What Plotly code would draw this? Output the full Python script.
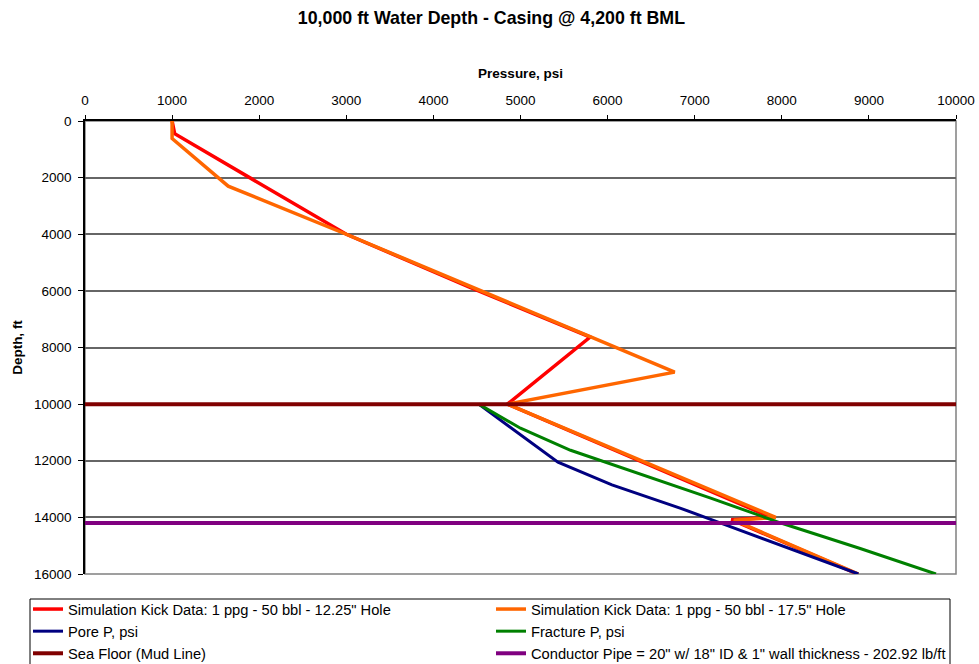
import plotly.graph_objects as go

# Pressure (psi) vs depth (ft) profiles
kick_1225_p = [1000, 1030, 3000, 4400, 5800, 4850, 7880, 7420, 8870]
kick_1225_d = [0, 450, 4000, 5850, 7630, 10000, 14000, 14080, 16000]

kick_175_p = [1000, 1000, 1644, 3000, 6770, 4850, 7930, 7450, 8880]
kick_175_d = [0, 620, 2300, 4000, 8870, 10000, 14000, 14100, 16000]

pore_p = [4520, 5430, 6050, 6840, 7300, 8100, 8880]
pore_d = [10000, 12050, 12850, 13680, 14200, 15100, 16000]

frac_p = [4520, 5000, 5575, 6400, 7184, 7990, 8900, 9770]
frac_d = [10000, 10850, 11630, 12500, 13320, 14200, 15100, 16000]

sea_floor_depth = 10000
conductor_depth = 14200
pressure_span = [0, 10000]

FONT = "Liberation Sans, Arial, sans-serif"
W, H = 979, 664
ML, MR, MT, MB = 85, 23, 121, 90
PW, PH = W - ML - MR, H - MT - MB

fig = go.Figure()

fig.add_trace(go.Scatter(
    x=kick_1225_p, y=kick_1225_d, mode="lines",
    name='Simulation Kick Data: 1 ppg - 50 bbl - 12.25" Hole',
    line=dict(color="#FF0000", width=3.5)))
fig.add_trace(go.Scatter(
    x=kick_175_p, y=kick_175_d, mode="lines",
    name='Simulation Kick Data: 1 ppg - 50 bbl - 17.5" Hole',
    line=dict(color="#FF6600", width=3.5)))
fig.add_trace(go.Scatter(
    x=pore_p, y=pore_d, mode="lines", name="Pore P, psi",
    line=dict(color="#000080", width=3)))
fig.add_trace(go.Scatter(
    x=frac_p, y=frac_d, mode="lines", name="Fracture P, psi",
    line=dict(color="#008000", width=3)))
fig.add_trace(go.Scatter(
    x=pressure_span, y=[sea_floor_depth] * 2, mode="lines",
    name="Sea Floor (Mud Line)",
    line=dict(color="#800000", width=4)))
fig.add_trace(go.Scatter(
    x=pressure_span, y=[conductor_depth] * 2, mode="lines",
    name='Conductor Pipe = 20" w/ 18" ID & 1" wall thickness - 202.92 lb/ft',
    line=dict(color="#800080", width=4)))

# plot-area frame (grey on right/bottom; black axis lines drawn on top/left)
fig.add_shape(type="rect", xref="paper", yref="paper", x0=0, y0=0, x1=1, y1=1,
              line=dict(color="#808080", width=1.5), layer="below")
# legend box, running off the bottom of the page
fig.add_shape(type="rect", xref="paper", yref="paper",
              x0=(30 - ML) / PW, x1=(950 - ML) / PW,
              y0=(H - MB - 690) / PH, y1=(H - MB - 599) / PH,
              line=dict(color="#000000", width=1), layer="above")

fig.update_layout(
    width=W, height=H,
    margin=dict(l=ML, r=MR, t=MT, b=MB, autoexpand=False),
    paper_bgcolor="white", plot_bgcolor="white",
    font=dict(family=FONT, color="#000000", size=13),
    title=dict(text="<b>10,000 ft Water Depth - Casing @ 4,200 ft BML</b>",
               x=0.502, xref="container", xanchor="center",
               y=1 - 18 / H, yanchor="middle",
               font=dict(size=17.8, family=FONT, color="#000000")),
    showlegend=True,
    legend=dict(orientation="h", xref="paper", yref="paper",
                x=(28 - ML) / PW, y=(H - MB - 593) / PH,
                xanchor="left", yanchor="top",
                entrywidth=418, entrywidthmode="pixels",
                borderwidth=0, bgcolor="rgba(0,0,0,0)",
                font=dict(size=14.7, family=FONT, color="#000000"),
                tracegroupgap=0, itemwidth=30),
)

fig.update_xaxes(
    side="top", range=[0, 10000], dtick=1000, tick0=0,
    tickformat="d",
    showgrid=False, zeroline=False,
    showline=True, linecolor="#000000", linewidth=1.5,
    ticks="outside", ticklen=4, tickcolor="#000000",
    ticklabelstandoff=5,
    tickfont=dict(size=13.5, family=FONT, color="#000000"),
    title=dict(text="<b>Pressure, psi</b>", font=dict(size=13.5, family=FONT), standoff=11),
)
fig.update_yaxes(
    range=[16000, 0], dtick=2000, tick0=0,
    tickformat="d",
    showgrid=True, gridcolor="#666666", gridwidth=1.5,
    zeroline=False,
    showline=True, linecolor="#000000", linewidth=1.5,
    ticks="outside", ticklen=5, tickcolor="#000000",
    ticklabelstandoff=4,
    tickfont=dict(size=13.5, family=FONT, color="#000000"),
    title=dict(text="<b>Depth, ft</b>", font=dict(size=13.5, family=FONT), standoff=8),
)

fig.write_html("out.html")
